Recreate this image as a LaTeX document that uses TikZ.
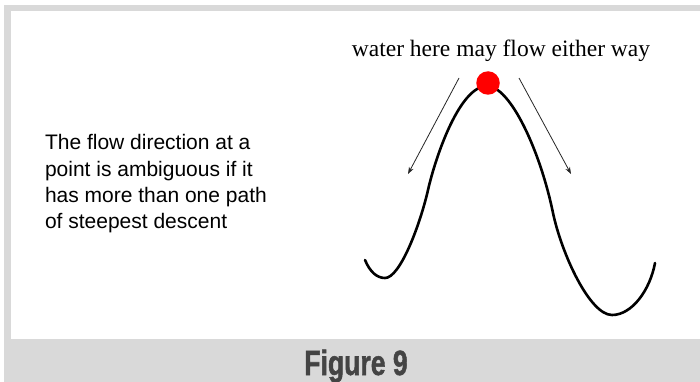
\documentclass[tikz,border=0pt]{standalone}
\usepackage{fontspec}
\setmainfont{Liberation Serif}
\newfontfamily\armfont{Liberation Sans}
\newfontfamily\figfont{Liberation Sans}[BoldFeatures={FakeBold=1.6}]
\usetikzlibrary{arrows.meta}
\definecolor{framegray}{HTML}{D9D9D9}
\definecolor{titlegray}{HTML}{444444}
\tikzset{
  flowarrow/.style={draw=black!85, line width=0.8pt, -{Stealth[length=7pt,width=5pt]}},
  terrain/.style={draw=black, line width=2.6pt, line cap=round},
  plain/.style={inner sep=0pt, outer sep=0pt}
}
\begin{document}
\begin{tikzpicture}[x=1pt,y=-1pt]
\useasboundingbox (0,0) rectangle (700,382);
\fill[white] (0,0) rectangle (700,382);
\fill[framegray] (4,5) rectangle (700,382);
\fill[white] (11,11) rectangle (700,339);
% terrain curve
\draw[terrain] (365,260) .. controls (370,272) and (377,278) .. (385,278)
  .. controls (400,278) and (420,225) .. (428,190)
  .. controls (436,155) and (460,86) .. (487,86)
  .. controls (510,86) and (540,150) .. (553,213)
  .. controls (562,255) and (590,315) .. (612,315)
  .. controls (632,315) and (650,290) .. (655,263);
% red dot
\node[plain, circle, fill=red, minimum size=23.5pt] (dot) at (488,83) {};
% arrows
\coordinate (la1) at (459,78);
\coordinate (la2) at (408,174);
\coordinate (ra1) at (519,78);
\coordinate (ra2) at (571,174);
\draw[flowarrow] (la1) -- (la2);
\draw[flowarrow] (ra1) -- (ra2);
% labels
\node[plain, anchor=base, font=\fontsize{23.5}{28}\selectfont] (top) at (501,57) {water here may flow either way};
\node[plain, anchor=north west, align=left, font=\armfont\fontsize{21}{26.3}\selectfont] (expl) at (45,134.5)
 {The flow direction at a\\ point is ambiguous if it\\ has more than one path\\ of steepest descent};
\node[plain, anchor=base, text=titlegray] (fig) at (356,375)
 {\scalebox{0.76}[1]{\figfont\bfseries\fontsize{35}{40}\selectfont Figure 9}};
\end{tikzpicture}
\end{document}
